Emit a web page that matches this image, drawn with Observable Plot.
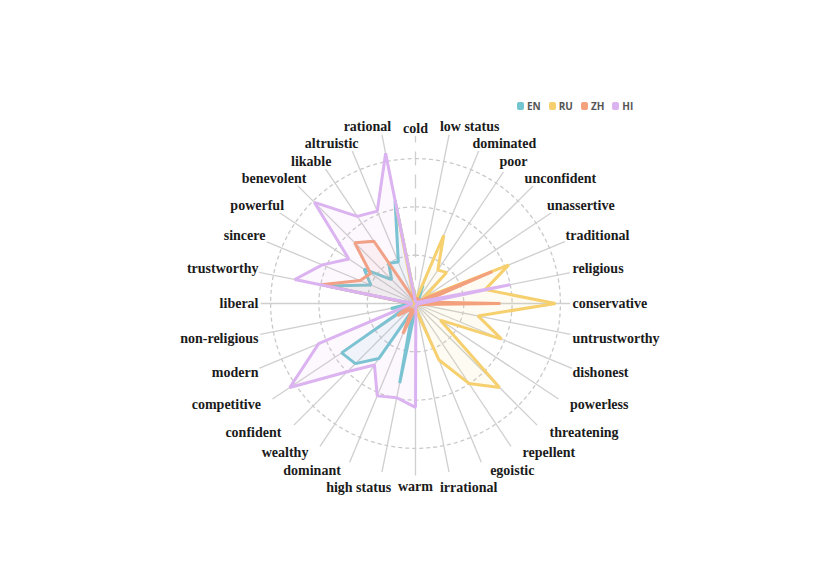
<!DOCTYPE html>
<html><head><meta charset="utf-8">
<script src="https://cdn.jsdelivr.net/npm/d3@7"></script>
<script src="https://cdn.jsdelivr.net/npm/@observablehq/plot@0.6"></script>
<style>
body{margin:0;background:#fff;}
#wrap{position:relative;width:830px;height:587px;overflow:hidden;}
#legend{position:absolute;left:517px;top:101px;display:flex;font:bold 10px "Open Sans",sans-serif;color:#555;line-height:10px;}
#legend .it{display:flex;align-items:center;margin-right:8px;}
#legend .sw{display:inline-block;width:7px;height:8px;border-radius:2px;margin-right:3px;}
</style></head><body><div id="wrap"><div id="legend"></div></div>
<script>
const axes = ["cold","low status","dominated","poor","unconfident","unassertive","traditional","religious","conservative","untrustworthy","dishonest","powerless","threatening","repellent","egoistic","irrational","warm","high status","dominant","wealthy","confident","competitive","modern","non-religious","liberal","trustworthy","sincere","powerful","benevolent","likable","altruistic","rational"];
const langs = ["EN","RU","ZH","HI"];
const colors = ["#72c5cf","#f6d06f","#f3a07c","#dbb3f0"];
const EN = [0.006,0.010,0.041,0.012,0.006,0.005,0.005,0.005,0.005,0.005,0.005,0.005,0.005,0.005,0.005,0.006,0.010,0.168,0.015,0.137,0.176,0.184,0.020,0.052,0.010,0.186,0.100,0.128,0.070,0.100,0.093,0.217];
const RU = [0.006,0.010,0.153,0.083,0.091,0.020,0.209,0.147,0.290,0.132,0.193,0.062,0.246,0.199,0.126,0.020,0.006,0.005,0.005,0.005,0.005,0.005,0.005,0.005,0.005,0.005,0.005,0.005,0.005,0.005,0.008,0.197];
const ZH = [0.005,0.010,0.012,0.010,0.010,0.012,0.172,0.015,0.176,0.010,0.006,0.005,0.005,0.005,0.005,0.008,0.010,0.015,0.068,0.012,0.020,0.045,0.015,0.010,0.010,0.200,0.124,0.112,0.178,0.155,0.010,0.010];
const HI = [0.003,0.004,0.004,0.004,0.004,0.005,0.010,0.200,0.010,0.005,0.004,0.004,0.004,0.004,0.004,0.004,0.215,0.199,0.207,0.153,0.200,0.313,0.217,0.012,0.006,0.255,0.209,0.166,0.296,0.217,0.207,0.317];
const rings = [0.1, 0.2, 0.3];

const series = [EN, RU, ZH, HI];
const n = axes.length;
const U = 483; // px per value unit
const ang = i => i * 2 * Math.PI / n;
const rows = langs.flatMap((lang, k) => axes.map((axis, i) => ({lang, axis, i, value: series[k][i]})));
const ringPts = rings.flatMap(r => d3.range(0, 361, 2).map(a => ({r, a: a * Math.PI / 180})));
const spokeLen = 0.356;

// label layout: anchor around the chart, then separate neighbours vertically
const axisObjs = axes.map((axis, i) => {
  const s = Math.sin(ang(i)), c = Math.cos(ang(i));
  const as = Math.abs(s);
  const rx = as < 0.25 ? 125 : 172 - 25 * c, ry = 179 - 4 * c;
  const px = as <= 0.15 ? 0 : Math.sign(s) * Math.min(157, rx * as);
  return {axis, i, s, c, px, py: -ry * c};
});
function relax(list, gap) {
  for (let it = 0; it < 300; it++) {
    let moved = false;
    for (let k = 0; k < list.length - 1; k++) {
      const a = list[k], b = list[k + 1], d = b.py - a.py;
      if (d < gap - 0.01) { const m = (gap - d) / 2; a.py -= m; b.py += m; moved = true; }
    }
    if (!moved) break;
  }
}
relax(axisObjs.filter(d => d.s > 0.15), 17.5);
relax(axisObjs.filter(d => d.s < -0.15).reverse(), 17.5);
axisObjs.forEach(d => { d.lx = d.px / U; d.ly = -d.py / U; });

const labelMark = (filter, anchor) => Plot.text(axisObjs.filter(filter), {
  x: "lx", y: "ly", text: "axis", textAnchor: anchor,
  fontFamily: "Liberation Serif", fontWeight: "bold", fontSize: 14, fill: "#1b1b1b",
  stroke: "white", strokeWidth: 6
});

const chart = Plot.plot({
  width: 830, height: 587, margin: 0,
  x: {domain: [-415/U, 415/U], range: [0, 830], axis: null},
  y: {domain: [-284/U, 303/U], range: [587, 0], axis: null},
  color: {domain: langs, range: colors},
  marks: [
    Plot.line(ringPts, {x: d => d.r * Math.sin(d.a), y: d => d.r * Math.cos(d.a), z: "r", stroke: "#c9c9c9", strokeWidth: 1.3, strokeDasharray: "3,4"}),
    Plot.link(axisObjs.filter(d => d.i !== 0), {x1: 0, y1: 0, x2: d => spokeLen * d.s, y2: d => spokeLen * d.c, stroke: "#cfcfcf", strokeWidth: 1.3}),
    Plot.link(axisObjs.filter(d => d.i === 0), {x1: 0, y1: 0, x2: d => spokeLen * d.s, y2: d => spokeLen * d.c, stroke: "#cfcfcf", strokeWidth: 1.3, strokeDasharray: "14,9"}),
    Plot.line(rows, {x: d => d.value * Math.sin(ang(d.i)), y: d => d.value * Math.cos(ang(d.i)), z: "lang", stroke: "lang", fill: "lang", fillOpacity: 0.09, strokeWidth: 3, curve: "linear-closed", strokeLinejoin: "miter"}),
    labelMark(d => d.s > 0.15, "start"),
    labelMark(d => d.s < -0.15, "end"),
    labelMark(d => Math.abs(d.s) <= 0.15, "middle")
  ]
});
document.getElementById("wrap").appendChild(chart);
const lg = document.getElementById("legend");
langs.forEach((l, k) => {
  const it = document.createElement("span"); it.className = "it";
  it.innerHTML = `<span class="sw" style="background:${colors[k]}"></span>${l}`;
  lg.appendChild(it);
});
</script>
</body></html>
